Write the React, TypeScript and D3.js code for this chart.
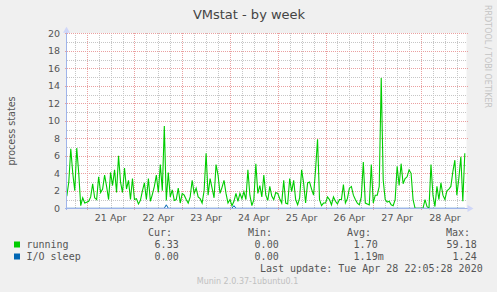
import React, { useEffect } from "react";
import * as d3 from "d3";

const runningValues: number[] = [
  1.4, 3.0, 6.8, 4.0, 2.0, 6.9, 4.0, 0.3, 1.2, 0.6,
  0.7, 0.8, 1.3, 2.8, 1.2, 1.0, 3.6, 1.8, 2.2, 3.8,
  2.5, 1.0, 4.1, 2.6, 4.4, 1.8, 6.0, 3.0, 1.8, 4.6,
  2.2, 3.2, 1.0, 3.4, 1.0, 1.1, 0.5, 0.9, 2.0, 2.9,
  1.0, 3.4, 0.8, 1.6, 2.5, 3.8, 1.8, 5.0, 2.0, 9.4,
  0.9,
  4.1, 1.3, 2.1, 0.9, 1.0, 2.3, 0.6, 1.7, 1.5, 1.0,
  0.6, 1.3, 3.2, 1.7, 2.3, 1.3, 1.1, 0.6, 2.0, 6.3,
  1.5, 3.4, 2.3, 1.2, 5.0, 3.8, 1.7, 2.4, 3.2, 1.7,
  0.6, 1.0, 0.3, 0.8, 1.7, 0.8, 1.7, 1.1, 1.9, 1.0,
  4.4, 1.5, 0.3, 1.0, 5.1, 1.7, 2.6, 1.3, 3.8, 1.5,
  0.9, 2.5, 1.4, 1.0, 1.8, 1.7, 1.1, 0.6, 3.2, 0.6,
  0.5, 3.4, 1.9, 3.2, 1.0, 0.4, 1.2, 4.4, 2.9, 0.6,
  2.9, 3.0, 2.2, 1.5, 4.4, 7.9, 1.0, 0.3, 0.6, 0.6,
  1.3, 1.0, 0.4, 1.3, 0.8, 0.5, 1.0, 1.0, 2.7, 0.6,
  1.1, 2.3, 2.5, 1.5, 1.0, 0.6, 0.4, 1.3, 5.3, 0.6,
  0.5, 0.4, 5.0, 0.6, 1.5, 1.5, 2.5, 14.9, 3.2, 1.0,
  0.7, 0.8, 0.4, 0.3, 1.0, 4.8, 2.6, 5.1, 2.8, 3.4,
  3.6, 4.4, 4.0, 1.0, 0.0, 0.0, 0.0, 0.0, 0.0, 1.0,
  0.2, 0.0, 5.0, 1.5, 0.2, 2.5, 1.0, 2.9, 1.5, 1.0,
  2.0, 2.2, 2.5, 4.2, 5.5, 1.5, 3.4, 5.9, 0.8, 6.3,
];

// sparse non-zero I/O sleep samples: [sample index, value]
const ioSleepSpikes: [number, number][] = [
  [50, 0.4],
  [84, 0.3],
];

const seriesNames = ["running", "I/O sleep"];
const seriesColors = ["#00CC00", "#0066B3"];
const curValues = ["6.33", "0.00"];
const minValues = ["0.00", "0.00"];
const avgValues = ["1.70", "1.19m"];
const maxValues = ["59.18", "1.24"];
const yTicks = [0, 2, 4, 6, 8, 10, 12, 14, 16, 18, 20];

const dataStart = new Date(2020, 3, 20, 14, 0);
const stepMs = 3600 * 1000;
const domainStart = new Date(2020, 3, 20, 13, 51);
const domainEnd = new Date(2020, 3, 28, 22, 51);

const W = 497;
const H = 292;
const plotL = 66.5;
const plotR = 466.5;
const plotT = 33.3;
const plotB = 208.3;

export default function App() {
  useEffect(() => {
    document.body.style.margin = "0";
  }, []);

  const x = d3.scaleTime().domain([domainStart, domainEnd]).range([plotL, plotR]);
  const y = d3.scaleLinear().domain([0, 20]).range([plotB, plotT]);

  const runningData = runningValues.map((v, i) => ({
    t: new Date(dataStart.getTime() + i * stepMs),
    v,
  }));
  const ioMap = new Map(ioSleepSpikes);
  const ioData = runningValues.map((_, i) => ({
    t: new Date(dataStart.getTime() + i * stepMs),
    v: ioMap.get(i) ?? 0,
  }));

  const line = d3
    .line<{ t: Date; v: number }>()
    .x((d) => x(d.t))
    .y((d) => y(d.v));

  const crisp = (v: number) => Math.round(v) + 0.5;

  const dayTicks = d3.timeDay.range(domainStart, domainEnd);
  const sixHourTicks = d3.timeHour
    .every(6)!
    .range(domainStart, domainEnd)
    .filter((d) => d.getHours() !== 0);
  const labelDays = dayTicks
    .map((d) => new Date(d.getTime() + 12 * 3600 * 1000))
    .filter((d) => x(d) < plotR);
  const fmt = d3.timeFormat("%d %b");

  const minorH = d3.range(1, 20, 2);
  const majorH = yTicks.filter((v) => v !== 0);

  const font = "'DejaVu Sans', sans-serif";
  const mono = "'DejaVu Sans Mono', monospace";
  const txt = "#555";

  const colEnds = [178.7, 278.7, 377.7, 476.7];
  const unitEnd = (s: string, end: number) => (/[a-zA-Z]$/.test(s) ? end + 6 : end);
  const rowY = [247.5, 259.5];

  return (
    <div style={{ position: "absolute", left: 0, top: 0 }}>
      <svg width={W} height={H} style={{ display: "block" }}>
        <rect x={0} y={0} width={W} height={H} fill="#F0F0F0" />
        <rect x={plotL} y={plotT - 0.3} width={plotR - plotL} height={plotB - plotT + 0.3} fill="#FFFFFF" />

        {/* minor grid */}
        <g stroke="#c6c6c6" strokeWidth={1} strokeDasharray="1,1" shapeRendering="crispEdges">
          {sixHourTicks.map((d, i) => (
            <line key={"mv" + i} x1={crisp(x(d))} x2={crisp(x(d))} y1={plotT} y2={plotB} />
          ))}
          {minorH.map((v) => (
            <line key={"mh" + v} x1={plotL} x2={plotR} y1={crisp(y(v))} y2={crisp(y(v))} />
          ))}
        </g>
        {/* major grid */}
        <g stroke="#eaa0a0" strokeWidth={1} strokeDasharray="1,1" shapeRendering="crispEdges">
          {dayTicks.map((d, i) => (
            <line key={"Mv" + i} x1={crisp(x(d))} x2={crisp(x(d))} y1={plotT} y2={plotB + 2} />
          ))}
          {majorH.map((v) => (
            <line key={"Mh" + v} x1={plotL - 2} x2={plotR + 2} y1={crisp(y(v))} y2={crisp(y(v))} />
          ))}
        </g>

        {/* data */}
        <path d={line(runningData) ?? ""} fill="none" stroke={seriesColors[0]} strokeWidth={1.1} />
        <path d={line(ioData) ?? ""} fill="none" stroke={seriesColors[1]} strokeWidth={1} />

        {/* axes */}
        <g stroke="#9fb4ea" strokeWidth={1} shapeRendering="crispEdges">
          <line x1={plotL - 2} x2={plotR + 1} y1={208.5} y2={208.5} />
          <line x1={66.5} x2={66.5} y1={plotT - 2} y2={plotB + 2} />
        </g>
        <path d={`M${plotR + 1},205 L${plotR + 7},208.5 L${plotR + 1},212 Z`} fill="#cfd6f8" />
        <path d={`M63,${plotT - 0.5} L66.5,${plotT - 6.5} L70,${plotT - 0.5} Z`} fill="#cfd6f8" />

        {/* y tick labels */}
        {yTicks.map((v) => (
          <text key={"yt" + v} x={60} y={y(v) + 3.5} textAnchor="end" fontFamily={font} fontSize={9.5} fill={txt}>
            {v}
          </text>
        ))}
        {/* x labels */}
        {labelDays.map((d, i) => (
          <text key={"xl" + i} x={x(d)} y={220.5} textAnchor="middle" fontFamily={font} fontSize={9.5} fill={txt}>
            {fmt(d)}
          </text>
        ))}

        {/* title */}
        <text x={249} y={18.5} textAnchor="middle" fontFamily={font} fontSize={13} fill="#444">
          VMstat - by week
        </text>
        {/* y label */}
        <text
          transform={`translate(15,131) rotate(-90)`}
          textAnchor="middle"
          fontFamily={font}
          fontSize={9.6}
          fill={txt}
        >
          process states
        </text>
        {/* watermark */}
        <text transform={`translate(484.5,5) rotate(90)`} fontFamily={font} fontSize={8} fill="#c4c4c4">
          RRDTOOL / TOBI OETIKER
        </text>

        {/* legend */}
        {["Cur:", "Min:", "Avg:", "Max:"].map((h, i) => (
          <text key={h} x={colEnds[i] - 6.7} y={235.5} textAnchor="end" fontFamily={mono} fontSize={10} fill={txt}>
            {h}
          </text>
        ))}
        {seriesNames.map((n, r) => (
          <g key={n}>
            <rect x={14} y={rowY[r] - 6} width={6} height={6} fill={seriesColors[r]} />
            <text x={26.5} y={rowY[r]} fontFamily={mono} fontSize={10} fill={txt}>
              {n}
            </text>
            {[curValues[r], minValues[r], avgValues[r], maxValues[r]].map((s, c) => (
              <text
                key={c}
                x={unitEnd(s, colEnds[c])}
                y={rowY[r]}
                textAnchor="end"
                fontFamily={mono}
                fontSize={10}
                fill={txt}
              >
                {s}
              </text>
            ))}
          </g>
        ))}
        <text x={482.7} y={271.5} textAnchor="end" fontFamily={mono} fontSize={10} fill={txt}>
          Last update: Tue Apr 28 22:05:28 2020
        </text>
        <text x={247.5} y={284} textAnchor="middle" fontFamily={font} fontSize={8} fill="#c0c0c0">
          Munin 2.0.37-1ubuntu0.1
        </text>
      </svg>
    </div>
  );
}
